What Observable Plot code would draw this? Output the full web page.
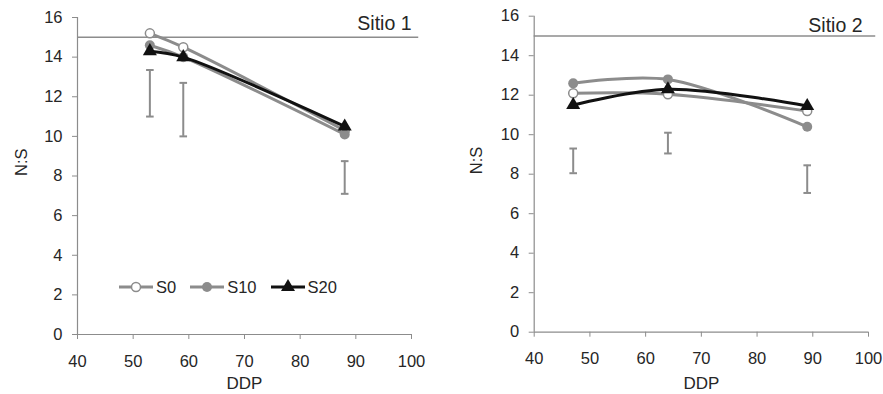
<!DOCTYPE html>
<html>
<head>
<meta charset="utf-8">
<script src="https://cdn.jsdelivr.net/npm/d3@7"></script>
<script src="https://cdn.jsdelivr.net/npm/@observablehq/plot@0.6"></script>
<style>
  html, body { margin: 0; padding: 0; background: #fff; }
  #wrap { position: relative; width: 883px; height: 394px; overflow: hidden; font-family: "Liberation Sans", Arial, sans-serif; color: #262626; }
  .panel { position: absolute; top: 0; }
  .legend { position: absolute; display: flex; align-items: center; font-size: 16.5px; color: #262626; }
  .legend .item { display: flex; align-items: center; margin-right: 14px; }
  .legend .item span { margin-left: 3px; }
</style>
</head>
<body>
<div id="wrap"></div>
<script>
// ---- data ----
const xTicks = [40, 50, 60, 70, 80, 90, 100];
const yTicks = [0, 2, 4, 6, 8, 10, 12, 14, 16];
const seriesNames = ["S0", "S10", "S20"];
const seriesStroke = ["#8c8c8c", "#8c8c8c", "#111111"];
const seriesFill = ["#ffffff", "#8c8c8c", "#111111"];
const seriesSymbol = ["circle", "circle", "triangle"];
const threshold = 15;
const thresholdEnd = 101.3;

const sitio1DDP = [53, 59, 88];
const sitio1S0 = [15.2, 14.5, 10.3];
const sitio1S10 = [14.6, 14.0, 10.1];
const sitio1S20 = [14.3, 14.0, 10.5];
const sitio1ErrLow = [11.0, 10.0, 7.1];
const sitio1ErrHigh = [13.35, 12.7, 8.75];

const sitio2DDP = [47, 64, 89];
const sitio2S0 = [12.1, 12.05, 11.2];
const sitio2S10 = [12.6, 12.8, 10.4];
const sitio2S20 = [11.5, 12.3, 11.45];
const sitio2ErrLow = [8.05, 9.05, 7.05];
const sitio2ErrHigh = [9.3, 10.1, 8.45];

// ---- helpers ----
const capSymbol = { draw(ctx) { ctx.moveTo(-3.8, 0); ctx.lineTo(3.8, 0); } };

function makePanel(cfg) {
  const seriesValues = cfg.series;
  const marks = [];
  // error bars
  const err = cfg.ddp.map((x, i) => ({ x, lo: cfg.errLow[i], hi: cfg.errHigh[i] }));
  marks.push(Plot.ruleX(err, { x: "x", y1: "lo", y2: "hi", stroke: "#8c8c8c", strokeWidth: 2 }));
  marks.push(Plot.dot(err, { x: "x", y: "lo", symbol: capSymbol, stroke: "#8c8c8c", strokeWidth: 2, fill: "none" }));
  marks.push(Plot.dot(err, { x: "x", y: "hi", symbol: capSymbol, stroke: "#8c8c8c", strokeWidth: 2, fill: "none" }));
  // threshold
  marks.push(Plot.ruleY([threshold], { x1: xTicks[0], x2: thresholdEnd, stroke: "#8c8c8c", strokeWidth: 1.5 }));
  // axes lines
  marks.push(Plot.ruleY([yTicks[0]], { x1: xTicks[0], x2: xTicks[xTicks.length - 1], stroke: "#8c8c8c", strokeWidth: 1.2 }));
  marks.push(Plot.ruleX([xTicks[0]], { y1: yTicks[0], y2: yTicks[yTicks.length - 1], stroke: "#8c8c8c", strokeWidth: 1.2 }));
  marks.push(Plot.axisX({ ticks: xTicks, tickSize: 5, tickPadding: cfg.xPad, stroke: "#8c8c8c", fill: "#262626", label: null, tickFormat: d => String(d) }));
  marks.push(Plot.axisY({ ticks: yTicks, tickSize: 5, tickPadding: 10, stroke: "#8c8c8c", fill: "#262626", label: null, tickFormat: d => String(d) }));
  // series
  seriesNames.forEach((name, s) => {
    const rows = cfg.ddp.map((x, i) => ({ x, y: seriesValues[s][i] }));
    marks.push(Plot.line(rows, { x: "x", y: "y", stroke: seriesStroke[s], strokeWidth: 3, curve: "catmull-rom" }));
    marks.push(Plot.dot(rows, {
      x: "x", y: "y", symbol: seriesSymbol[s],
      r: seriesSymbol[s] === "triangle" ? 5.2 : (s === 0 ? 4.5 : 5),
      fill: seriesFill[s], stroke: seriesStroke[s], strokeWidth: s === 0 ? 1.5 : 0
    }));
  });
  // texts
  marks.push(Plot.text([cfg.title], { frameAnchor: "top-right", textAnchor: "end", lineAnchor: "middle", dx: cfg.titleDx, dy: cfg.titleDy, fontSize: 19.5, fill: "#262626" }));
  marks.push(Plot.text(["DDP"], { frameAnchor: "bottom", lineAnchor: "middle", dy: cfg.xLabelDy, fontSize: 17, fill: "#262626" }));
  marks.push(Plot.text(["N:S"], { frameAnchor: "left", rotate: -90, lineAnchor: "middle", dx: cfg.yLabelDx, fontSize: 16.5, fill: "#262626" }));

  return Plot.plot({
    width: cfg.width, height: 394,
    marginLeft: cfg.ml, marginRight: cfg.mr, marginTop: cfg.mt, marginBottom: cfg.mb,
    x: { domain: [xTicks[0], xTicks[xTicks.length - 1]] },
    y: { domain: [yTicks[0], yTicks[yTicks.length - 1]] },
    style: { fontFamily: '"Liberation Sans", Arial, sans-serif', fontSize: "16.5px", color: "#262626", background: "transparent", overflow: "visible" },
    marks
  });
}

const wrap = document.getElementById("wrap");

const p1 = makePanel({
  width: 441, ml: 77, mr: 30, mt: 17, mb: 60, xPad: 16,
  ddp: sitio1DDP, series: [sitio1S0, sitio1S10, sitio1S20],
  errLow: sitio1ErrLow, errHigh: sitio1ErrHigh,
  title: "Sitio 1", titleDx: 0, titleDy: 6, xLabelDy: 49, yLabelDx: -56
});
p1.classList.add("panel"); p1.style.left = "0px";
wrap.appendChild(p1);

const p2 = makePanel({
  width: 442, ml: 92.7, mr: 15, mt: 15.7, mb: 62.3, xPad: 15.5,
  ddp: sitio2DDP, series: [sitio2S0, sitio2S10, sitio2S20],
  errLow: sitio2ErrLow, errHigh: sitio2ErrHigh,
  title: "Sitio 2", titleDx: -6, titleDy: 10, xLabelDy: 51, yLabelDx: -57
});
p2.classList.add("panel"); p2.style.left = "441px";
wrap.appendChild(p2);

// legend (HTML overlay inside Sitio 1)
const legend = document.createElement("div");
legend.className = "legend";
legend.style.left = "119px";
legend.style.top = "277px";
seriesNames.forEach((name, s) => {
  const item = document.createElement("div");
  item.className = "item";
  const ns = "http://www.w3.org/2000/svg";
  const svg = document.createElementNS(ns, "svg");
  svg.setAttribute("width", 34); svg.setAttribute("height", 20);
  const line = document.createElementNS(ns, "line");
  line.setAttribute("x1", 0); line.setAttribute("x2", 34); line.setAttribute("y1", 10); line.setAttribute("y2", 10);
  line.setAttribute("stroke", seriesStroke[s]); line.setAttribute("stroke-width", 3);
  svg.appendChild(line);
  const sym = d3.symbol(seriesSymbol[s] === "triangle" ? d3.symbolTriangle : d3.symbolCircle,
    Math.PI * Math.pow(seriesSymbol[s] === "triangle" ? 5.2 : (s === 0 ? 4.5 : 5), 2))();
  const path = document.createElementNS(ns, "path");
  path.setAttribute("d", sym);
  path.setAttribute("transform", "translate(17,10)");
  path.setAttribute("fill", seriesFill[s]);
  path.setAttribute("stroke", seriesStroke[s]);
  path.setAttribute("stroke-width", s === 0 ? 1.5 : 0);
  svg.appendChild(path);
  item.appendChild(svg);
  const label = document.createElement("span");
  label.textContent = name;
  item.appendChild(label);
  legend.appendChild(item);
});
wrap.appendChild(legend);
</script>
</body>
</html>
